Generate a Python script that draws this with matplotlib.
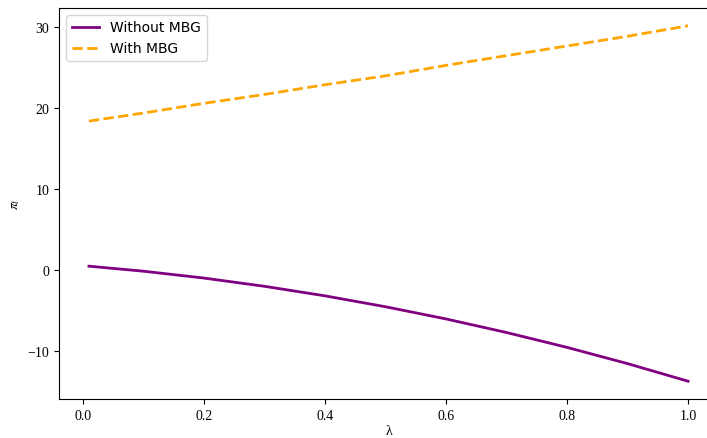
import matplotlib
matplotlib.use("Agg")
import matplotlib.pyplot as plt

# Datos
lam = [0.01, 0.1, 0.2, 0.3, 0.4, 0.5, 0.6, 0.7, 0.8, 0.9, 1.0]
pi_sin_mbg = [0.44, -0.18, -1.03, -2.05, -3.23, -4.58, -6.09, -7.77, -9.61, -11.62, -13.8]
pi_con_mbg = [18.4, 19.4, 20.6, 21.7, 22.9, 24.0, 25.3, 26.5, 27.7, 28.9, 30.2]

plt.rcParams['font.family'] = 'serif'
plt.rcParams['font.serif'] = ['Liberation Serif', 'DejaVu Serif']
plt.rcParams['mathtext.fontset'] = 'stix'

fig = plt.figure(figsize=(7.07, 4.39), dpi=100)
ax = fig.add_axes([59 / 707, 39 / 439, 659 / 707, 391 / 439])

ax.plot(lam, pi_sin_mbg, label="Without MBG", color='purple', linewidth=2)
ax.plot(lam, pi_con_mbg, label="With MBG", color='orange', linestyle='--', linewidth=2)

ax.set_xlabel("λ", labelpad=2)
ax.set_ylabel(r"$\pi_t$")
ax.legend(loc='upper left', prop={'family': 'DejaVu Sans', 'size': 10})

fig.savefig("out.png", dpi=100)
